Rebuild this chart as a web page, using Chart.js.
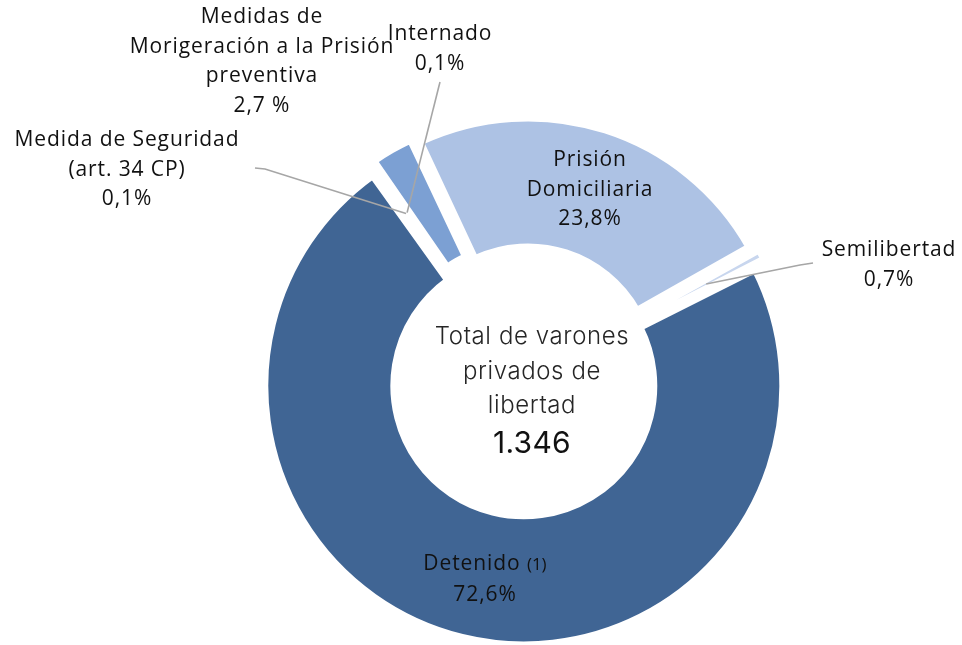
<!DOCTYPE html>
<html lang="es">
<head>
<meta charset="utf-8">
<title>Total de varones privados de libertad</title>
<script src="https://cdn.jsdelivr.net/npm/chart.js@4.4.1/dist/chart.umd.min.js"></script>
<style>
  html, body { margin: 0; padding: 0; background: #fff; }
  #wrap { position: relative; width: 962px; height: 645px; overflow: hidden; }
  .lbl {
    position: absolute; transform: translateX(-50%); text-align: center; white-space: nowrap;
    font-family: 'Open Sans', sans-serif; font-size: 21px; font-weight: 500; line-height: 29.5px;
    color: #111; letter-spacing: 0.9px;
  }
  .lbl small { font-size: 17px; letter-spacing: 0; }
  #centro {
    position: absolute; left: 532px; top: 319px; transform: translateX(-50%);
    text-align: center; white-space: nowrap; font-family: Inter, sans-serif;
    font-weight: 300; font-size: 24px; line-height: 34.5px; color: #262626; letter-spacing: 0.6px;
  }
  #centro .total { font-size: 30px; font-weight: 400; color: #111; line-height: 38px; letter-spacing: 0.3px; }
</style>
</head>
<body>
<div id="wrap">
  <canvas id="grafico"></canvas>
  <div id="centro"></div>
</div>
<script>
// datos
const categorias = ['Prisión Domiciliaria', 'Semilibertad', 'Detenido (1)',
  'Medida de Seguridad (art. 34 CP)', 'Internado', 'Medidas de Morigeración a la Prisión preventiva'];
const porcentajes = [23.8, 0.7, 72.6, 0.1, 0.1, 2.7];
const totalVarones = 1346;
const textoCentro = ['Total de varones', 'privados de', 'libertad'];
// etiquetas partidas en renglones
const renglones = [
  ['Prisión', 'Domiciliaria'],
  ['Semilibertad'],
  ['Detenido (1)'],
  ['Medida de Seguridad', '(art. 34 CP)'],
  ['Internado'],
  ['Medidas de', 'Morigeración a la Prisión', 'preventiva']
];

// estilo
const colores = ['#adc2e4', '#c8d6ee', '#406594', '#406594', '#7ca0d3', '#7ca0d3'];
const desplazamientos = [38, 28, 20, 28, 28, 28];
const bordes = [7, 6, 7, 7, 7, 7];
const posEtiquetas = [
  { x: 590, y: 144 },
  { x: 889, y: 234, linea: [[813, 263], [800, 265]] },
  { x: 485, y: 548 },
  { x: 127, y: 124, linea: [[255, 168], [265, 169]] },
  { x: 440, y: 18, linea: [[440, 82]] },
  { x: 262, y: 1, sep: ' ' }
];

const fmt = v => v.toFixed(1).replace('.', ',');
const miles = n => String(n).replace(/\B(?=(\d{3})+(?!\d))/g, '.');

// etiquetas de texto
const wrap = document.getElementById('wrap');
renglones.forEach((lineas, i) => {
  const p = posEtiquetas[i];
  const div = document.createElement('div');
  div.className = 'lbl';
  div.style.left = p.x + 'px';
  div.style.top = p.y + 'px';
  lineas.concat(fmt(porcentajes[i]) + (p.sep || '') + '%').forEach((t, k) => {
    if (k) div.appendChild(document.createElement('br'));
    const m = t.match(/^(.*) (\(\d\))$/);
    if (m) {
      div.appendChild(document.createTextNode(m[1] + ' '));
      const s = document.createElement('small');
      s.textContent = m[2];
      div.appendChild(s);
    } else {
      div.appendChild(document.createTextNode(t));
    }
  });
  wrap.appendChild(div);
});
const centro = document.getElementById('centro');
centro.innerHTML = textoCentro.join('<br>') + '<div class="total">' + miles(totalVarones) + '</div>';

// líneas guía desde la etiqueta hasta el sector
const lineasGuia = {
  id: 'lineasGuia',
  afterDatasetsDraw(chart) {
    const ctx = chart.ctx;
    const arcs = chart.getDatasetMeta(0).data;
    ctx.save();
    ctx.strokeStyle = '#a6a6a6';
    ctx.lineWidth = 1.6;
    posEtiquetas.forEach((p, i) => {
      if (!p.linea) return;
      const a = arcs[i];
      const { x, y, startAngle, endAngle, innerRadius, outerRadius } =
        a.getProps(['x', 'y', 'startAngle', 'endAngle', 'innerRadius', 'outerRadius'], true);
      const mid = (startAngle + endAngle) / 2;
      const r = (a.options.offset || 0) / 4 + innerRadius + 0.57 * (outerRadius - innerRadius);
      ctx.beginPath();
      ctx.moveTo(p.linea[0][0], p.linea[0][1]);
      p.linea.slice(1).forEach(q => ctx.lineTo(q[0], q[1]));
      ctx.lineTo(x + Math.cos(mid) * r, y + Math.sin(mid) * r);
      ctx.stroke();
    });
    ctx.restore();
  }
};

new Chart(document.getElementById('grafico'), {
  type: 'doughnut',
  data: {
    labels: categorias,
    datasets: [{
      data: porcentajes,
      backgroundColor: colores,
      borderColor: '#ffffff',
      borderWidth: bordes,
      borderJoinStyle: 'miter',
      offset: desplazamientos
    }]
  },
  options: {
    responsive: true,
    maintainAspectRatio: false,
    animation: false,
    events: [],
    rotation: -25.1,
    radius: 254,
    cutout: '49.2%',
    layout: { padding: { left: 188, right: 100, top: 118, bottom: 1 } },
    plugins: { legend: { display: false }, tooltip: { enabled: false } }
  },
  plugins: [lineasGuia]
});
</script>
</body>
</html>
